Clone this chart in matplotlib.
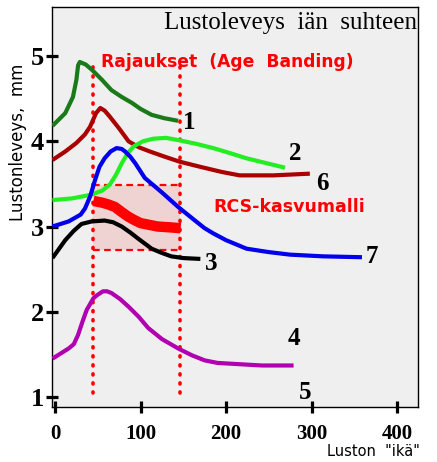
import matplotlib
matplotlib.use("Agg")
import matplotlib.pyplot as plt
import numpy as np

# ---- data ----
c1_x = [-3, 12, 21, 25, 27, 29, 36, 43, 55, 66, 78, 90, 100, 113, 128, 144]
c1_y = [4.18, 4.33, 4.52, 4.72, 4.89, 4.93, 4.90, 4.84, 4.72, 4.60, 4.52, 4.45, 4.38, 4.31, 4.27, 4.24]

c6_x = [-3, 12, 25, 35, 41, 48, 53, 58, 64, 75, 86, 98, 111, 128, 146, 170, 195, 216, 255, 298]
c6_y = [3.78, 3.88, 3.98, 4.08, 4.17, 4.33, 4.39, 4.36, 4.29, 4.15, 4.00, 3.93, 3.88, 3.82, 3.76, 3.70, 3.64, 3.60, 3.60, 3.62]

c2_x = [-3, 20, 41, 55, 64, 71, 78, 85, 92, 103, 115, 130, 146, 165, 185, 205, 224, 269]
c2_y = [3.31, 3.33, 3.37, 3.42, 3.49, 3.60, 3.74, 3.86, 3.94, 4.00, 4.03, 4.04, 4.01, 3.97, 3.92, 3.86, 3.80, 3.69]

c7_x = [-3, 16, 30, 35, 41, 47, 52, 58, 65, 72, 78, 82, 88, 94, 105, 125, 144, 160, 175, 185, 200, 224, 250, 275, 314, 359]
c7_y = [3.00, 3.06, 3.14, 3.21, 3.35, 3.55, 3.70, 3.80, 3.88, 3.92, 3.91, 3.88, 3.82, 3.74, 3.57, 3.40, 3.23, 3.10, 2.98, 2.92, 2.84, 2.74, 2.70, 2.67, 2.65, 2.64]

c3_x = [-3, 12, 22, 31, 43, 58, 68, 78, 88, 97, 113, 125, 136, 150, 170]
c3_y = [2.63, 2.84, 2.95, 3.03, 3.06, 3.07, 3.05, 3.00, 2.93, 2.86, 2.74, 2.69, 2.65, 2.63, 2.62]

c4_x = [-3, 16, 22, 27, 32, 37, 45, 50, 56, 61, 66, 76, 86, 98, 109, 125, 144, 160, 175, 190, 207, 242, 279]
c4_y = [1.45, 1.57, 1.62, 1.73, 1.88, 2.02, 2.16, 2.20, 2.24, 2.24, 2.22, 2.15, 2.06, 1.94, 1.81, 1.68, 1.57, 1.49, 1.43, 1.40, 1.39, 1.37, 1.37]

rcs_x = [45, 55, 62, 70, 78, 85, 92, 100, 110, 120, 135, 147]
rcs_y = [3.30, 3.28, 3.26, 3.23, 3.17, 3.12, 3.08, 3.04, 3.02, 3.00, 2.99, 2.98]

band_x = [44, 146]
box_y = [2.72, 3.49]

curve_labels = ["1", "2", "3", "4", "5", "6", "7"]
label_x = [157, 281, 183, 279, 292, 313, 370]
label_y = [4.22, 3.86, 2.57, 1.69, 1.05, 3.51, 2.65]

x_ticks = [0, 100, 200, 300, 400]
y_ticks = [1, 2, 3, 4, 5]

# ---- figure ----
fig = plt.figure(figsize=(4.37, 4.62), dpi=100)
ax = fig.add_axes([52/437, 1-407/462, (418-52)/437, (407-7)/462])
ax.set_facecolor("#efefef")
ax.set_xlim(-3.5, 424.5)
ax.set_ylim(0.883, 5.575)

# shaded box
ax.fill_between(band_x, box_y[0], box_y[1], color="#f0c8c8", alpha=0.7, lw=0, zorder=1)
dash = dict(color="red", lw=1.6, ls=(0, (3, 2)), zorder=2)
ax.plot(band_x, [box_y[0]]*2, **dash)
ax.plot(band_x, [box_y[1]]*2, **dash)

# dotted vertical limits
for bx in band_x:
    ax.plot([bx, bx], [1.05, 4.93], color="red", lw=2.6, ls=(0, (0.3, 2.2)),
            dash_capstyle="round", zorder=3)

lw = 3.0
common = dict(lw=lw, solid_joinstyle="round", solid_capstyle="butt")
ax.plot(c1_x, c1_y, color="#1a7a1a", zorder=4, **common)
ax.plot(c6_x, c6_y, color="#aa0000", zorder=4, **common)
ax.plot(c2_x, c2_y, color="#22ee22", zorder=4, **common)
ax.plot(c7_x, c7_y, color="#0000ee", zorder=5, **common)
ax.plot(c3_x, c3_y, color="black", zorder=4, **common)
ax.plot(c4_x, c4_y, color="#b000b0", zorder=4, **common)
ax.plot(rcs_x, rcs_y, color="red", lw=7.5, solid_capstyle="butt",
        solid_joinstyle="round", zorder=6)

for t, lx, ly in zip(curve_labels, label_x, label_y):
    ax.text(lx, ly, t, fontsize=18, fontweight="bold", family="Liberation Serif",
            ha="center", va="center", zorder=7)

ax.text(202, 4.93, "Rajaukset  (Age  Banding)", color="red", fontsize=12.3,
        fontweight="bold", family="DejaVu Sans", ha="center", va="center")
ax.text(274, 3.23, "RCS-kasvumalli", color="red", fontsize=12.5,
        fontweight="bold", family="DejaVu Sans", ha="center", va="center")

ax.text(0.996, 0.987, "Lustoleveys  iän  suhteen", transform=ax.transAxes,
        fontsize=18, family="Liberation Serif", ha="right", va="top")

ax.set_xticks(x_ticks)
ax.set_yticks(y_ticks)
ax.set_xticklabels([str(v) for v in x_ticks], fontsize=15, fontweight="bold",
                   family="Liberation Serif")
ax.set_yticklabels([str(v) for v in y_ticks], fontsize=19, fontweight="bold",
                   family="Liberation Serif")
ax.tick_params(axis="both", direction="inout", length=9, width=2.3, color="black")
ax.tick_params(axis="y", pad=1)
ax.tick_params(axis="x", pad=8)
for s in ax.spines.values():
    s.set_linewidth(1.0)

fig.text(18/437, 1-142/462, "Lustonleveys,  mm", rotation=90, fontsize=12,
         family="DejaVu Sans", ha="center", va="center")
fig.text(420/437, 1-452/462, 'Luston  "ikä"', fontsize=10.5,
         family="DejaVu Sans", ha="right", va="center")

fig.savefig("out.png", dpi=100)
